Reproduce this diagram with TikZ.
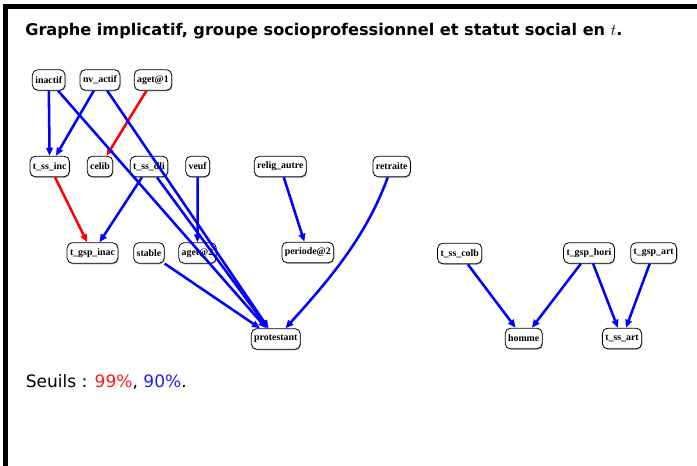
\documentclass[tikz,border=0pt]{standalone}
\usepackage{fontspec}
\setmainfont{DejaVu Sans}
\newfontfamily\nodefont{Liberation Serif}
\usetikzlibrary{arrows.meta,shadows}
\definecolor{sred}{RGB}{255,25,25}
\definecolor{sblue}{RGB}{30,30,255}
\tikzset{
  nd/.style={draw=black, line width=0.6pt, rounded corners=4pt, fill=white,
    inner xsep=2.2pt, inner ysep=0pt, minimum height=15.5pt,
    font=\nodefont\bfseries\fontsize{7.4}{8}\selectfont,
    drop shadow={shadow xshift=0.5pt, shadow yshift=-0.7pt, fill=black!45, opacity=0.7}},
  blueedge/.style={draw=blue, line width=1.9pt, -{Triangle[length=6pt,width=5pt]}},
  rededge/.style={draw=red, line width=1.9pt, -{Triangle[length=6pt,width=5pt]}},
}
\begin{document}
\begin{tikzpicture}[x=0.75pt,y=-0.75pt]
\useasboundingbox (0,0) rectangle (697,466);
\fill[white] (0,0) rectangle (697,466);
\draw[line width=3.9pt] (5.5,466) -- (5.5,6.5) -- (697,6.5);

\node[anchor=base west, inner sep=0pt, font=\bfseries\fontsize{12.1}{14}\selectfont] (title) at (25,36)
  {Graphe implicatif, groupe socioprofessionnel et statut social en $t$.};
\node[anchor=base west, inner sep=0pt, font=\fontsize{12.8}{15}\selectfont] (seuils) at (25.5,387.3)
  {Seuils : \textcolor{sred}{99\%}, \textcolor{sblue}{90\%}.};

% row 1
\node[nd] (inactif) at (48.7,80) {inactif};
\node[nd] (nvactif) at (100,80) {nv\_actif};
\node[nd] (aget1) at (153,80) {aget@1};
% row 2
\node[nd] (tssinc) at (49.7,166.5) {t\_ss\_inc};
\node[nd] (celib) at (100,166.5) {celib};
\node[nd] (tssdli) at (149,166.5) {t\_ss\_dli};
\node[nd] (veuf) at (197.7,166.5) {veuf};
\node[nd] (religautre) at (280.3,166.5) {relig\_autre};
\node[nd] (retraite) at (391.7,166.5) {retraite};
% row 3
\node[nd] (tgspinac) at (92.5,253) {t\_gsp\_inac};
\node[nd] (stable) at (149,253) {stable};
\node[nd] (aget2) at (197.5,253) {aget@2};
\node[nd] (periode2) at (307.8,252.5) {periode@2};
\node[nd] (tsscolb) at (459.7,253.5) {t\_ss\_colb};
\node[nd] (tgsphori) at (589,253) {t\_gsp\_hori};
\node[nd] (tgspart) at (653.7,253) {t\_gsp\_art};
% row 4
\node[nd] (protestant) at (275.8,339) {protestant};
\node[nd] (homme) at (523.7,338.5) {homme};
\node[nd] (tssart) at (622,338.5) {t\_ss\_art};

% edges
\draw[blueedge] (inactif) -- (tssinc);
\draw[blueedge] (nvactif) -- (tssinc);
\draw[rededge] (aget1) -- (celib);
\draw[blueedge] (inactif) -- (protestant);
\draw[blueedge] (nvactif) -- (protestant);
\draw[rededge] (tssinc) -- (tgspinac);
\draw[blueedge] (tssdli) -- (tgspinac);
\draw[blueedge] (tssdli) -- (protestant);
\draw[blueedge] (veuf) -- (aget2);
\draw[blueedge] (religautre) -- (periode2);
\draw[blueedge] (retraite) to[out=-110,in=48,looseness=0.9] (protestant);
\draw[blueedge] (stable) -- (protestant);
\draw[blueedge] (tsscolb) -- (homme);
\draw[blueedge] (tgsphori) -- (homme);
\draw[blueedge] (tgsphori) -- (tssart);
\draw[blueedge] (tgspart) -- (tssart);
\end{tikzpicture}
\end{document}
